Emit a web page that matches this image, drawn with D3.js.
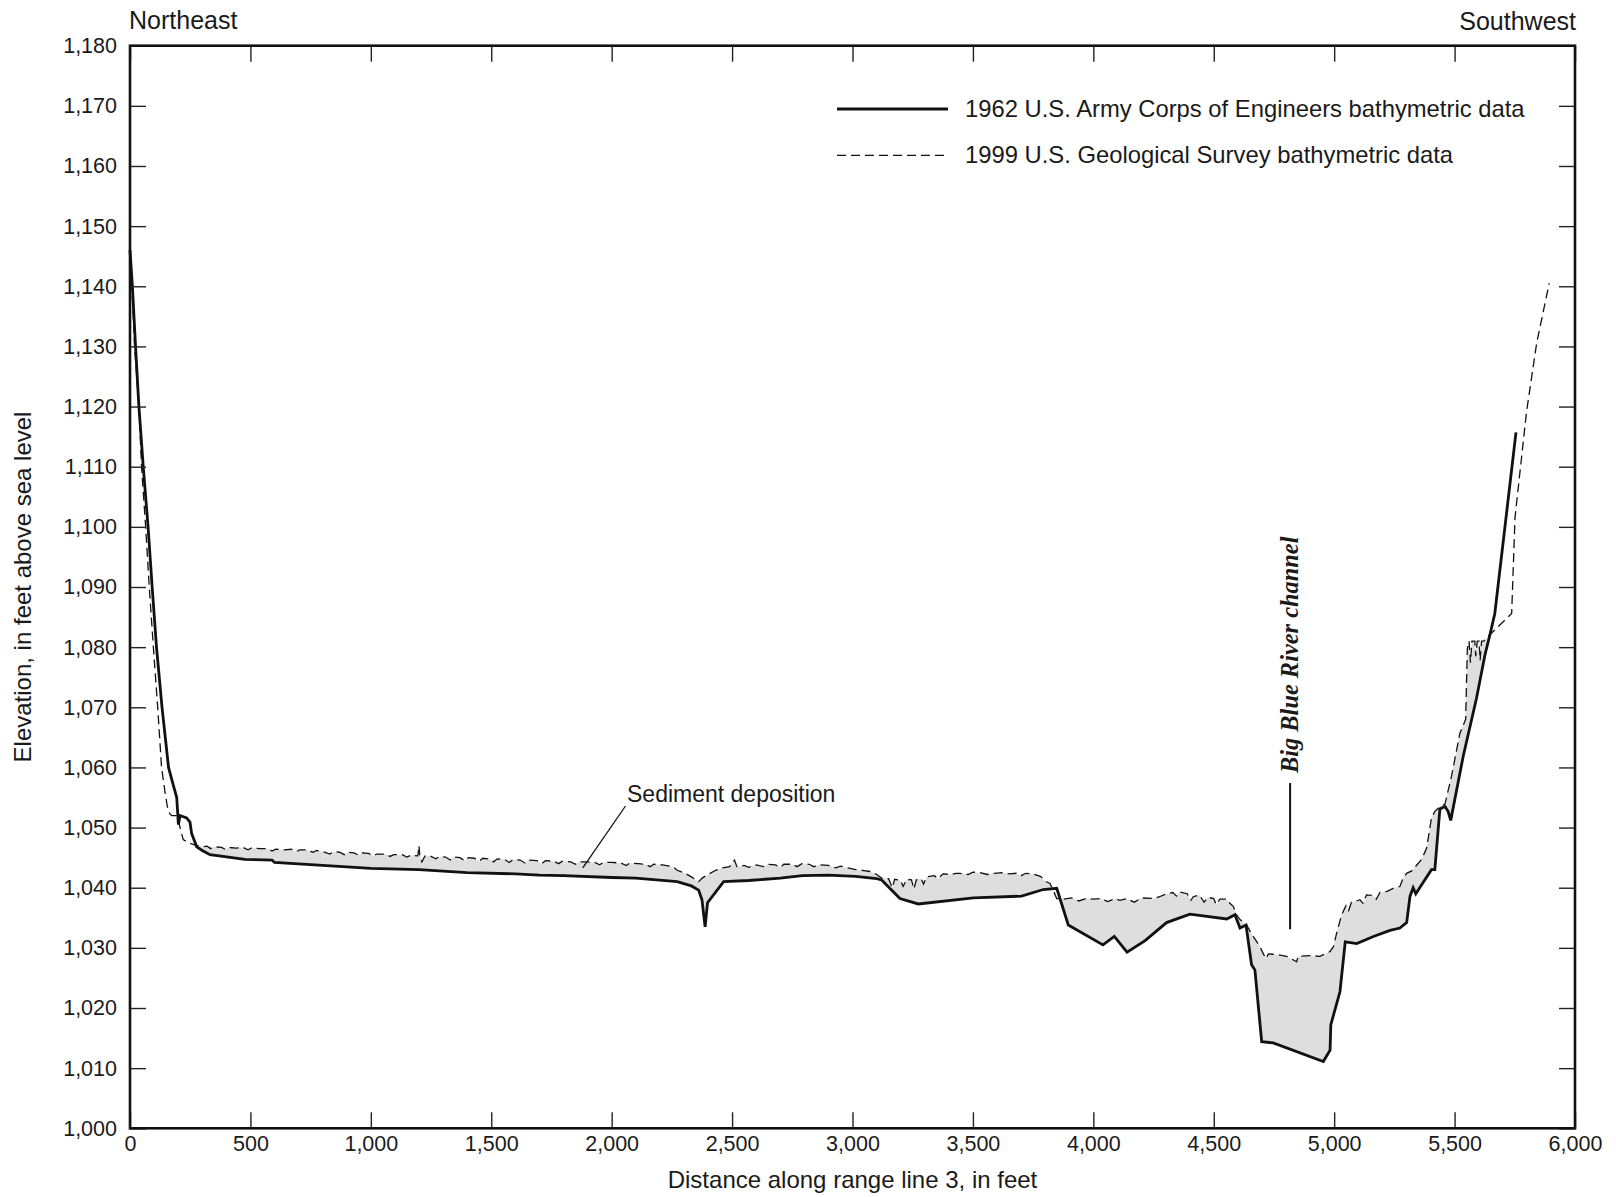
<!DOCTYPE html>
<html><head><meta charset="utf-8">
<script src="https://cdn.jsdelivr.net/npm/d3@7"></script>
<style>
html,body{margin:0;padding:0;background:#fff;}
svg{display:block;}
text{font-family:"Liberation Sans",Arial,Helvetica,sans-serif;fill:#1a1a1a;}
</style></head>
<body>
<svg id="chart" width="1616" height="1197"></svg>
<script>
// ---- data ----
const xTicks = [0,500,1000,1500,2000,2500,3000,3500,4000,4500,5000,5500,6000];
const yTicks = [1000,1010,1020,1030,1040,1050,1060,1070,1080,1090,1100,1110,1120,1130,1140,1150,1160,1170,1180];

// 1962 U.S. Army Corps of Engineers bathymetric data [distance ft, elevation ft]
const profile1962 = [
 [0,1146],[10,1140],[23,1130],[37,1120],[55,1110],[75,1100],[92,1090],[110,1080],[133,1070],[160,1060],
 [180,1057],[194,1055],[201,1050.5],[208,1052],[235,1051.6],[249,1050.9],[256,1049],[277,1046.8],[300,1046.2],
 [332,1045.5],[477,1044.7],[590,1044.6],[600,1044.2],[800,1043.7],[1000,1043.2],[1200,1043.0],[1400,1042.5],
 [1600,1042.3],[1700,1042.1],[1800,1042.0],[2000,1041.7],[2100,1041.6],[2272,1041.0],[2331,1040.3],[2361,1039.6],
 [2375,1038],[2388,1033.5],[2398,1037.5],[2465,1041],[2569,1041.2],[2700,1041.6],[2791,1042.0],[2900,1042.1],
 [3013,1041.9],[3100,1041.5],[3121,1041.3],[3197,1038.2],[3273,1037.3],[3502,1038.3],[3702,1038.6],[3792,1039.7],
 [3848,1039.9],[3896,1033.8],[4040,1030.5],[4087,1031.9],[4140,1029.3],[4215,1031.2],[4304,1034.2],[4401,1035.6],
 [4554,1034.8],[4588,1035.5],[4609,1033.3],[4634,1033.8],[4657,1027.2],[4671,1026.3],[4699,1014.4],[4747,1014.2],
 [4955,1011.1],[4983,1013.0],[4986,1017.2],[5024,1022.7],[5046,1031.0],[5094,1030.7],[5163,1031.9],[5232,1032.9],
 [5273,1033.3],[5301,1034.2],[5315,1038.6],[5328,1040.0],[5339,1039.0],[5370,1040.9],[5404,1043.0],[5418,1043.0],
 [5439,1053.1],[5460,1053.5],[5473,1052.7],[5484,1051.2],[5536,1061.9],[5591,1071.5],[5626,1078.7],[5647,1082.1],
 [5667,1085.6],[5755,1115.7]
];

// 1999 U.S. Geological Survey bathymetric data [distance ft, elevation ft]
const profile1999 = [
 [0,1143],[8,1140],[19,1130],[37,1120],[48,1110],[65,1100],[80,1090],[97,1080],[115,1070],[131,1060],
 [145,1056],[155,1053.5],[165,1052.3],[173,1052],[194,1052],[200,1051.2],[208,1050],[221,1048],[242,1047.5],[277,1047.0],
 [300,1046.8],[320,1046.9],[335,1046.5],[350,1046.8],[380,1046.7],[395,1046.4],[410,1046.7],[440,1046.6],[470,1046.7],
 [490,1046.3],[505,1046.6],[540,1046.5],[570,1046.5],[590,1046.1],[605,1046.4],[640,1046.3],[670,1046.4],[690,1046.0],
 [705,1046.3],[730,1046.3],[760,1045.9],[775,1046.2],[800,1046.0],[830,1045.6],[845,1046.0],[870,1045.9],[890,1045.5],
 [905,1045.9],[930,1045.8],[950,1045.4],[965,1045.8],[990,1045.7],[1010,1045.3],[1025,1045.6],[1060,1045.6],[1080,1045.2],
 [1095,1045.5],[1130,1045.5],[1150,1045.1],[1165,1045.4],[1195,1045.3],[1200,1047.0],[1203,1045.5],[1212,1044.3],
 [1225,1045.3],[1250,1045.2],[1270,1044.8],[1285,1045.2],[1310,1045.1],[1330,1044.6],[1345,1045.1],[1370,1045.0],
 [1390,1044.5],[1405,1045.0],[1430,1044.9],[1450,1044.4],[1465,1044.9],[1490,1044.8],[1510,1044.3],[1525,1044.8],
 [1555,1044.7],[1575,1044.2],[1590,1044.7],[1620,1044.6],[1640,1044.1],[1655,1044.6],[1690,1044.5],[1710,1044.0],
 [1725,1044.5],[1760,1044.4],[1780,1044.0],[1795,1044.4],[1830,1044.3],[1850,1043.9],[1865,1044.3],[1900,1044.3],
 [1930,1044.2],[1950,1043.8],[1965,1044.2],[2000,1044.2],[2040,1044.1],[2060,1043.7],[2075,1044.1],[2110,1044.0],
 [2140,1043.9],[2160,1043.5],[2175,1043.9],[2210,1043.8],[2240,1043.6],[2260,1043.3],[2272,1042.9],[2300,1042.5],
 [2331,1041.8],[2361,1041.0],[2376,1041.6],[2400,1042.2],[2432,1042.9],[2460,1043.3],[2490,1043.5],[2510,1044.6],
 [2520,1043.5],[2550,1043.7],[2569,1043.4],[2600,1043.8],[2630,1043.5],[2650,1043.9],[2680,1043.8],[2700,1043.4],
 [2715,1043.9],[2750,1043.9],[2770,1043.5],[2790,1044.0],[2820,1043.9],[2840,1043.5],[2861,1043.8],[2900,1043.7],
 [2930,1043.3],[2950,1043.6],[2980,1043.3],[3013,1043.0],[3040,1042.9],[3073,1042.7],[3100,1042.2],[3121,1041.6],
 [3150,1041.5],[3165,1040.0],[3175,1041.4],[3200,1041.2],[3210,1040.2],[3225,1041.4],[3245,1041.3],[3255,1039.8],
 [3265,1041.3],[3285,1041.5],[3295,1040.6],[3307,1041.8],[3340,1042.0],[3355,1041.5],[3376,1042.3],[3410,1042.2],
 [3430,1042.4],[3446,1042.4],[3480,1042.2],[3500,1042.6],[3529,1042.5],[3560,1042.2],[3590,1042.4],[3620,1042.5],
 [3653,1042.3],[3680,1042.4],[3700,1042.0],[3720,1042.4],[3750,1042.3],[3780,1041.9],[3805,1041.0],[3820,1040.7],
 [3833,1039.6],[3848,1038.2],[3876,1038.1],[3910,1038.3],[3940,1037.8],[3970,1038.2],[4000,1038.1],[4030,1038.2],
 [4060,1037.7],[4090,1038.2],[4110,1037.9],[4139,1038.2],[4170,1037.6],[4200,1038.3],[4250,1038.2],[4275,1038.5],
 [4304,1039.0],[4330,1039.2],[4345,1038.6],[4360,1039.3],[4390,1039.0],[4405,1037.9],[4415,1038.5],[4440,1038.8],
 [4460,1037.6],[4475,1038.4],[4500,1038.2],[4510,1037.2],[4526,1038.1],[4554,1038.1],[4567,1037.4],[4581,1036.9],
 [4595,1035.5],[4609,1034.7],[4636,1033.8],[4664,1031.9],[4692,1030.2],[4706,1029.0],[4717,1028.2],[4727,1029.0],
 [4760,1028.9],[4802,1028.6],[4844,1027.7],[4851,1028.6],[4900,1028.7],[4941,1028.6],[4983,1029.4],[4997,1030.2],
 [5010,1032.4],[5031,1035.5],[5049,1037.0],[5060,1036.2],[5072,1037.6],[5086,1037.7],[5107,1038.0],[5120,1037.4],
 [5134,1038.8],[5160,1038.7],[5175,1038.1],[5190,1039.2],[5220,1039.4],[5245,1039.9],[5273,1040.2],[5287,1041.7],
 [5301,1042.4],[5322,1042.8],[5363,1044.7],[5384,1046.6],[5404,1051.6],[5418,1052.7],[5439,1053.5],[5460,1053.9],
 [5487,1058.5],[5522,1065.7],[5546,1068],[5553,1079.8],[5560,1081],[5566,1077.4],[5572,1081],[5584,1081],[5588,1078.5],
 [5594,1081],[5602,1081],[5606,1077.8],[5612,1081],[5621,1081],[5647,1082.1],[5737,1085.6],[5751,1101.6],
 [5799,1119.2],[5841,1130.6],[5893,1140.5]
];

const legendLabels = ["1962 U.S. Army Corps of Engineers bathymetric data","1999 U.S. Geological Survey bathymetric data"];

// ---- drawing ----
const svg = d3.select("#chart");
const L=130, R=1575, T=45.7, B=1128.3;
const x = d3.scaleLinear().domain([0,6000]).range([L,R]);
const y = d3.scaleLinear().domain([1000,1180]).range([B,T]);
const line = d3.line().x(d=>x(d[0])).y(d=>y(d[1]));

const defs = svg.append("defs");
const d99 = profile1999, d62 = profile1962;
defs.append("clipPath").attr("id","belowDashed").append("path")
  .attr("d", line(d99.concat([[d99[d99.length-1][0],1000],[d99[0][0],1000]]))+"Z");
defs.append("clipPath").attr("id","aboveSolid").append("path")
  .attr("d", line(d62.concat([[d62[d62.length-1][0],1180],[d62[0][0],1180]]))+"Z");

svg.append("g").attr("clip-path","url(#belowDashed)")
  .append("rect").attr("clip-path","url(#aboveSolid)")
  .attr("x",L).attr("y",T).attr("width",R-L).attr("height",B-T).attr("fill","#dedede");

svg.append("path").datum(profile1962).attr("d",line)
  .attr("fill","none").attr("stroke","#111").attr("stroke-width",2.8).attr("stroke-linejoin","miter").attr("stroke-miterlimit",3);
svg.append("path").datum(profile1999).attr("d",line)
  .attr("fill","none").attr("stroke","#111").attr("stroke-width",1.3).attr("stroke-dasharray","9,5");

// axes with inward ticks
function styleAxis(g){
  g.select(".domain").remove();
  g.selectAll(".tick line").attr("stroke","#222").attr("stroke-width",1.4);
  g.selectAll(".tick text").style("font-family",'"Liberation Sans",Arial,sans-serif').style("font-size","21.5px").attr("fill","#1a1a1a");
}
svg.append("g").attr("transform",`translate(0,${B})`)
  .call(d3.axisBottom(x).tickValues(xTicks).tickSize(-16).tickPadding(7).tickFormat(d3.format(",")))
  .call(styleAxis);
svg.append("g").attr("transform",`translate(0,${T})`)
  .call(d3.axisTop(x).tickValues(xTicks).tickSize(-16).tickFormat(""))
  .call(styleAxis);
svg.append("g").attr("transform",`translate(${L},0)`)
  .call(d3.axisLeft(y).tickValues(yTicks).tickSize(-16).tickPadding(13).tickFormat(d3.format(",")))
  .call(styleAxis);
svg.append("g").attr("transform",`translate(${R},0)`)
  .call(d3.axisRight(y).tickValues(yTicks).tickSize(-16).tickFormat(""))
  .call(styleAxis);

svg.append("rect").attr("x",L).attr("y",T).attr("width",R-L).attr("height",B-T)
  .attr("fill","none").attr("stroke","#111").attr("stroke-width",2.6);

// titles
svg.append("text").attr("x",(L+R)/2).attr("y",1188).attr("text-anchor","middle")
  .style("font-size","24px").text("Distance along range line 3, in feet");
svg.append("text").attr("transform",`translate(31,${(T+B)/2}) rotate(-90)`).attr("text-anchor","middle")
  .style("font-size","24px").text("Elevation, in feet above sea level");
svg.append("text").attr("x",129).attr("y",29).style("font-size","25px").text("Northeast");
svg.append("text").attr("x",1576).attr("y",30).attr("text-anchor","end").style("font-size","25px").text("Southwest");

// legend
const lg = svg.append("g");
[0,1].forEach(i=>{
  const yy = 109 + i*46.3;
  lg.append("line").attr("x1",837).attr("x2",948).attr("y1",yy).attr("y2",yy)
    .attr("stroke","#111").attr("stroke-width", i===0?2.8:1.3).attr("stroke-dasharray", i===0?null:"9,5");
  lg.append("text").attr("x",965).attr("y",yy+7.5).style("font-size","23.8px").text(legendLabels[i]);
});

// annotations
svg.append("text").attr("x",627).attr("y",802).style("font-size","23px").text("Sediment deposition");
svg.append("line").attr("x1",625.5).attr("y1",806).attr("x2",x(1880)).attr("y2",y(1043.3))
  .attr("stroke","#111").attr("stroke-width",1.3);

svg.append("line").attr("x1",x(4817)).attr("x2",x(4817)).attr("y1",y(1057.4)).attr("y2",y(1033.1))
  .attr("stroke","#111").attr("stroke-width",2);
svg.append("text").attr("transform",`translate(${x(4817)+8},773) rotate(-90)`)
  .style("font-family",'"Liberation Serif","Times New Roman",serif').style("font-weight","bold").style("font-style","italic")
  .style("font-size","24.4px").text("Big Blue River channel");
</script>
</body></html>
